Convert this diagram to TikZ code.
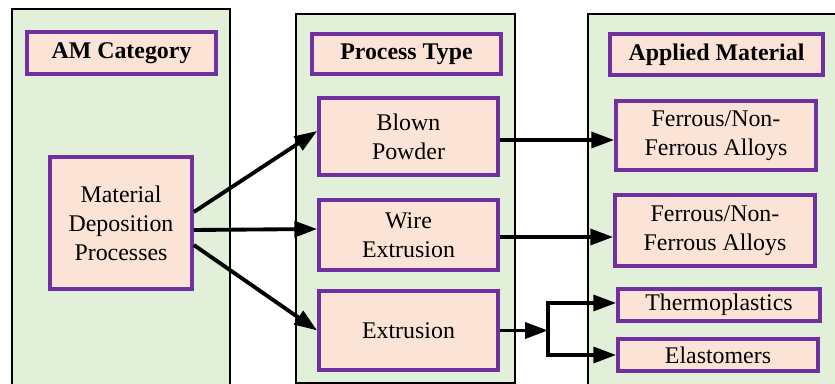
\documentclass[tikz,border=0pt]{standalone}
\usepackage{fontspec}
\setmainfont{Liberation Serif}
\usetikzlibrary{positioning}
\usetikzlibrary{arrows.meta,calc}
\definecolor{panelGreen}{HTML}{E2EFD9}
\definecolor{boxPeach}{HTML}{FBE4D5}
\definecolor{boxPurple}{HTML}{7030A0}
\tikzset{
    column/.style={draw=black, line width=1.3pt, fill=panelGreen},
    itemBox/.style={draw=boxPurple, line width=2.1pt, fill=boxPeach, align=center,
		inner sep=0pt, font=\fontsize{13.6}{16.5}\selectfont},
    headBox/.style={itemBox, font=\fontsize{13.6}{16.5}\selectfont\bfseries},
    flow/.style={line width=2.2pt, -{Triangle[length=13pt,width=9pt]}}
}

\begin{document}
\begin{tikzpicture}[x=0.02cm, y=-0.02cm]
			\clip (0,0) rectangle (835,384);
			% the three columns
			\draw[column] (12,9) rectangle (230,400);
			\draw[column] (296,14) rectangle (515,383);
			\draw[column] (588,14) rectangle (850,400);
			% headings
			\node[headBox, minimum width=3.78cm, minimum height=0.84cm] (amCat) at (121.5,53) {AM Category};
			\node[headBox, minimum width=3.78cm, minimum height=0.8cm] (procType) at (406.5,54) {Process Type};
			\node[headBox, minimum width=4.26cm, minimum height=0.82cm] (appMat) at (716.5,54.5) {Applied Material};
			% categories and processes
			\node[itemBox, minimum width=2.84cm, minimum height=2.64cm] (matDep) at (121,223) {Material\\Deposition\\Processes};
			\node[itemBox, minimum width=3.58cm, minimum height=1.54cm] (blown) at (408.5,136.5) {Blown\\Powder};
			\node[itemBox, minimum width=3.58cm, minimum height=1.4cm] (wire) at (408.5,235) {Wire\\Extrusion};
			\node[itemBox, minimum width=3.58cm, minimum height=1.58cm] (extr) at (408.5,330.5) {Extrusion};
			% materials
			\node[itemBox, minimum width=4cm, minimum height=1.38cm] (alloyA) at (716,135.5) {Ferrous/Non-\\Ferrous Alloys};
			\node[itemBox, minimum width=4cm, minimum height=1.42cm] (alloyB) at (715,230.5) {Ferrous/Non-\\Ferrous Alloys};
			\node[itemBox, minimum width=4.04cm, minimum height=0.64cm] (thermo) at (719,305) {Thermoplastics};
			\node[itemBox, minimum width=4cm, minimum height=0.64cm] (elast) at (718,355) {Elastomers};
			\coordinate (split) at (548,331);
			% connectors
			\draw[flow] ($(matDep.east)+(0,-11)$) -- ($(blown.west)+(0,-5.5)$);
			\draw[flow] ($(matDep.east)+(0,7)$) -- ($(wire.west)+(0,-6)$);
			\draw[flow] ($(matDep.east)+(0,22)$) -- (extr.west);
			\draw[flow] ($(blown.east)+(0,3.5)$) coordinate (blownOut) -- (blownOut -| alloyA.west);
			\draw[flow] ($(wire.east)+(0,2)$) coordinate (wireOut) -- (wireOut -| alloyB.west);
			\draw[flow] (extr.east) -- (extr.east -| split);
			\draw[flow] (split) |- ($(thermo.west)+(0,-2)$);
			\draw[flow] (split) |- (elast.west);
	\end{tikzpicture}
\end{document}
